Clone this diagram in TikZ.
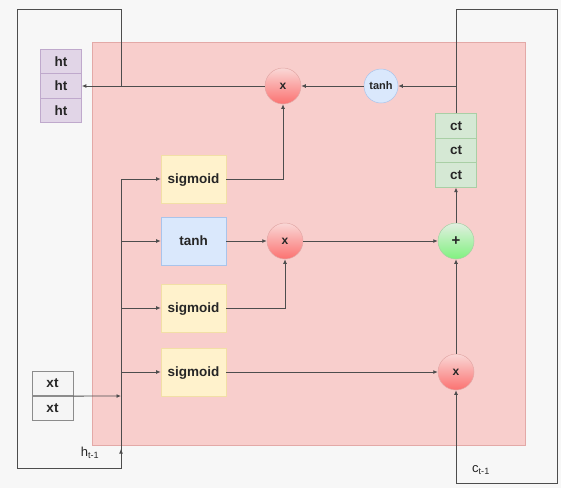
\documentclass[tikz,border=0pt]{standalone}
\usepackage{fontspec}
\setmainfont{Liberation Sans}
\usetikzlibrary{arrows.meta}

\definecolor{cellpink}{HTML}{F8CECC}
\definecolor{cellline}{HTML}{E3A9A7}
\definecolor{gateyellow}{HTML}{FFF2CC}
\definecolor{gateyline}{HTML}{F2DFA6}
\definecolor{gateblue}{HTML}{DAE8FC}
\definecolor{gatebline}{HTML}{A9C4EB}
\definecolor{stackpurple}{HTML}{E1D5E7}
\definecolor{stackpline}{HTML}{BFA9CC}
\definecolor{stackgreen}{HTML}{D5E8D4}
\definecolor{stackgline}{HTML}{A9CFA5}
\definecolor{wire}{HTML}{4D4D4D}

\begin{document}
\begin{tikzpicture}[
            x = 1pt, y = -1pt,
            every node/.style={text depth=0pt, font=\fontsize{13.5}{15}\selectfont\bfseries, text=black!85},
            gate/.style={rectangle, minimum width=65pt, minimum height=48pt, line width=.6pt},
            cell/.style={rectangle, minimum width=41pt, minimum height=24.5pt, line width=.6pt},
            op/.style={circle, minimum size=36pt, inner sep=0pt, line width=.5pt},
            line/.style={draw=wire, line width=.9pt},
            arr/.style={line, -{Latex[length=4.5pt, width=4pt]}},
            ]

        \useasboundingbox[fill=black!3] (0,0) rectangle (561,488);
        \fill[cellpink, draw=cellline, line width=.6pt] (92,42) rectangle (525,445);

        % gates
        \node[gate, fill=gateyellow, draw=gateyline] (sig1) at (193.5,179) {sigmoid};
        \node[gate, fill=gateblue, draw=gatebline] (tanhb) at (193.5,241) {tanh};
        \node[gate, fill=gateyellow, draw=gateyline] (sig2) at (193.5,308) {sigmoid};
        \node[gate, fill=gateyellow, draw=gateyline] (sig3) at (193.5,372) {sigmoid};

        % pointwise operations
        \node[op, top color=cellpink!80!white, bottom color=red!45!cellpink, draw=cellline] (mx1) at (283,86) {\fontsize{12}{12}\selectfont x};
        \node[op, top color=cellpink!80!white, bottom color=red!45!cellpink, draw=cellline] (mx2) at (285,241) {\fontsize{12}{12}\selectfont x};
        \node[op, top color=cellpink!80!white, bottom color=red!45!cellpink, draw=cellline] (mx3) at (456,372) {\fontsize{12}{12}\selectfont x};
        \node[op, top color=stackgreen!70!white, bottom color=green!40!stackgreen, draw=stackgline] (plus) at (456,241) {\fontsize{15}{15}\selectfont +};
        \node[op, minimum size=34pt, fill=gateblue, draw=gatebline] (tanhc) at (381,86) {\fontsize{11}{13}\selectfont tanh};

        % stacks
        \node[cell, fill=stackpurple, draw=stackpline] (ht1) at (61,61.5) {ht};
        \node[cell, fill=stackpurple, draw=stackpline] (ht2) at (61,86) {ht};
        \node[cell, fill=stackpurple, draw=stackpline] (ht3) at (61,110.5) {ht};
        \node[cell, fill=stackgreen, draw=stackgline] (ct1) at (456,126) {ct};
        \node[cell, fill=stackgreen, draw=stackgline] (ct2) at (456,150.5) {ct};
        \node[cell, fill=stackgreen, draw=stackgline] (ct3) at (456,175) {ct};
        \node[cell, fill=black!4, draw=black!45] (xt1) at (52.5,383.5) {xt};
        \node[cell, fill=black!4, draw=black!45] (xt2) at (52.5,408.5) {xt};

        % labels
        \node[font=\fontsize{13}{15}\selectfont] (hlab) at (90,452) {h\textsubscript{t-1}};
        \node[font=\fontsize{13}{15}\selectfont] (clab) at (481,469) {c\textsubscript{t-1}};

        % junctions and corners
        \coordinate (hj) at (121,86);
        \coordinate (lc1) at (121,9);
        \coordinate (lc2) at (17,9);
        \coordinate (lc3) at (17,468);
        \coordinate (lc4) at (121,468);
        \coordinate (tr1) at (121,179);
        \coordinate (tr2) at (121,449);
        \coordinate (xj) at (121,396);
        \coordinate (cj) at (456,86);
        \coordinate (rc1) at (456,9);
        \coordinate (rc2) at (557,9);
        \coordinate (rc3) at (557,483);
        \coordinate (rc4) at (456,483);

        % hidden state path
        \draw[arr] (mx1) -- (ht2);
        \draw[line] (hj) -- (lc1) -- (lc2) -- (lc3) -- (lc4) -- (tr2);
        \draw[arr] (lc4) -- (tr2);
        \draw[line] (tr1) -- (tr2);
        \draw[arr] (xt1.south east) -- (xj);
        \draw[arr] (tr1) -- (sig1);
        \draw[arr] (tr1 |- tanhb) -- (tanhb);
        \draw[arr] (tr1 |- sig2) -- (sig2);
        \draw[arr] (tr1 |- sig3) -- (sig3);

        % gate outputs
        \draw[arr] (sig1) -| (mx1);
        \draw[arr] (tanhb) -- (mx2);
        \draw[arr] (sig2) -| (mx2);
        \draw[arr] (sig3) -- (mx3);
        \draw[arr] (mx2) -- (plus);
        \draw[arr] (mx3) -- (plus);
        \draw[arr] (plus) -- (ct3);

        % cell state path
        \draw[line] (ct1) -- (rc1) -- (rc2) -- (rc3) -- (rc4);
        \draw[arr] (rc4) -- (mx3);
        \draw[arr] (cj) -- (tanhc);
        \draw[arr] (tanhc) -- (mx1);
    \end{tikzpicture}
\end{document}
